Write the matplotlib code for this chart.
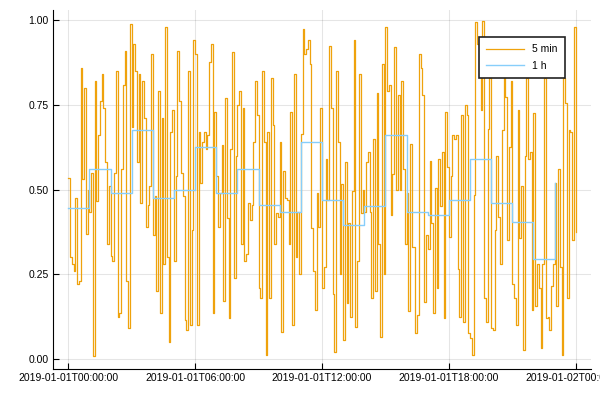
import numpy as np
import pandas as pd
import matplotlib
matplotlib.use("Agg")
import matplotlib.pyplot as plt
import matplotlib.dates as mdates

# 5 minute readings, one row per hour (12 values), plus the closing value at 24:00
h00 = [0.535, 0.30, 0.28, 0.26, 0.476, 0.22, 0.23, 0.86, 0.53, 0.80, 0.37, 0.50]
h01 = [0.435, 0.55, 0.007, 0.82, 0.465, 0.66, 0.76, 0.84, 0.74, 0.58, 0.34, 0.51]
h02 = [0.305, 0.29, 0.55, 0.85, 0.125, 0.135, 0.56, 0.81, 0.91, 0.23, 0.09, 0.99]
h03 = [0.685, 0.93, 0.85, 0.58, 0.84, 0.46, 0.82, 0.71, 0.39, 0.455, 0.51, 0.90]
h04 = [0.365, 0.48, 0.20, 0.79, 0.135, 0.71, 0.28, 0.98, 0.30, 0.05, 0.67, 0.735]
h05 = [0.29, 0.54, 0.91, 0.76, 0.55, 0.48, 0.115, 0.085, 0.85, 0.10, 0.38, 0.94]
h06 = [0.90, 0.10, 0.67, 0.52, 0.64, 0.67, 0.62, 0.66, 0.875, 0.93, 0.135, 0.73]
h07 = [0.54, 0.39, 0.49, 0.63, 0.17, 0.77, 0.415, 0.12, 0.62, 0.905, 0.24, 0.60]
h08 = [0.75, 0.79, 0.34, 0.74, 0.29, 0.31, 0.46, 0.41, 0.455, 0.64, 0.82, 0.72]
h09 = [0.21, 0.18, 0.85, 0.64, 0.01, 0.67, 0.18, 0.83, 0.69, 0.34, 0.43, 0.42]
h10 = [0.64, 0.08, 0.555, 0.476, 0.47, 0.34, 0.73, 0.10, 0.84, 0.30, 0.435, 0.25]
h11 = [0.665, 0.975, 0.90, 0.915, 0.94, 0.87, 0.385, 0.26, 0.145, 0.49, 0.39, 0.74]
h12 = [0.21, 0.27, 0.59, 0.47, 0.925, 0.74, 0.19, 0.02, 0.85, 0.64, 0.25, 0.515]
h13 = [0.056, 0.58, 0.165, 0.40, 0.125, 0.495, 0.94, 0.095, 0.29, 0.84, 0.43, 0.50]
h14 = [0.435, 0.58, 0.61, 0.435, 0.18, 0.65, 0.20, 0.785, 0.34, 0.065, 0.87, 0.25]
h15 = [0.98, 0.79, 0.81, 0.425, 0.545, 0.92, 0.50, 0.78, 0.50, 0.82, 0.56, 0.34]
h16 = [0.49, 0.14, 0.635, 0.33, 0.33, 0.075, 0.13, 0.90, 0.86, 0.78, 0.167, 0.365]
h17 = [0.325, 0.585, 0.40, 0.135, 0.505, 0.21, 0.59, 0.45, 0.61, 0.12, 0.73, 0.567]
h18 = [0.36, 0.54, 0.66, 0.65, 0.66, 0.265, 0.125, 0.72, 0.11, 0.75, 0.72, 0.075]
h19 = [0.063, 0.012, 0.484, 0.995, 0.93, 0.925, 0.735, 0.997, 0.18, 0.11, 0.68, 0.83]
h20 = [0.09, 0.085, 0.38, 0.60, 0.42, 0.28, 0.675, 0.83, 0.774, 0.35, 0.626, 0.82]
h21 = [0.22, 0.18, 0.10, 0.735, 0.356, 0.51, 0.026, 0.60, 0.83, 0.59, 0.61, 0.145]
h22 = [0.725, 0.155, 0.28, 0.21, 0.033, 0.28, 0.83, 0.12, 0.125, 0.085, 0.215, 0.28]
h23 = [0.52, 0.155, 0.56, 0.27, 0.012, 0.83, 0.755, 0.18, 0.675, 0.67, 0.35, 0.98]
last_value = [0.375]

values_5min = (h00 + h01 + h02 + h03 + h04 + h05 + h06 + h07 + h08 + h09 + h10 + h11
               + h12 + h13 + h14 + h15 + h16 + h17 + h18 + h19 + h20 + h21 + h22 + h23
               + last_value)

values_1h = [0.445, 0.56, 0.49, 0.675, 0.475, 0.50, 0.625, 0.49, 0.56, 0.455, 0.435, 0.64,
             0.47, 0.395, 0.45, 0.66, 0.435, 0.425, 0.47, 0.59, 0.46, 0.405, 0.295, 0.52]

series_labels = ["5 min", "1 h"]
y_ticks = [0.0, 0.25, 0.5, 0.75, 1.0]

t_5min = pd.date_range("2019-01-01 00:00", periods=len(values_5min), freq="5min")
t_1h = pd.date_range("2019-01-01 00:00", periods=len(values_1h), freq="1h")

plt.rcParams['font.family'] = ['Liberation Sans', 'DejaVu Sans']

fig = plt.figure(figsize=(6, 4), dpi=100)
ax = fig.add_axes([53 / 600, 1 - 369 / 400, 538 / 600, 359 / 400])

ax.plot(t_5min, values_5min, drawstyle="steps-post", color="#EFA20C", lw=0.9, label=series_labels[0])
ax.plot(t_1h, values_1h, drawstyle="steps-post", color="#87CEFA", lw=1.0, label=series_labels[1])

start = pd.Timestamp("2019-01-01 00:00")
end = pd.Timestamp("2019-01-02 00:00")
pad = (end - start) * 0.03
ax.set_xlim(start - pad, end + pad)
ax.set_ylim(-0.03, 1.03)

ax.set_xticks(pd.date_range(start, end, freq="6h"))
ax.xaxis.set_major_formatter(mdates.DateFormatter("%Y-%m-%dT%H:%M:%S"))
ax.set_yticks(y_ticks)
ax.set_yticklabels(["%.2f" % v for v in y_ticks])

ax.grid(True, color="black", alpha=0.1, lw=0.8)
ax.set_axisbelow(True)
for s in ["top", "right"]:
    ax.spines[s].set_visible(False)
for s in ["left", "bottom"]:
    ax.spines[s].set_linewidth(0.8)
ax.tick_params(direction="in", length=4, width=0.8, labelsize=7.5, colors="black", pad=3)

leg = ax.legend(loc="upper right", bbox_to_anchor=(570 / 600, 1 - 32 / 400), bbox_transform=fig.transFigure,
                fontsize=7.5, fancybox=False, framealpha=1, edgecolor="#222222",
                handlelength=3.6, borderpad=0.7, labelspacing=0.6)
leg.get_frame().set_linewidth(1.2)

fig.savefig("out.png", dpi=100)
